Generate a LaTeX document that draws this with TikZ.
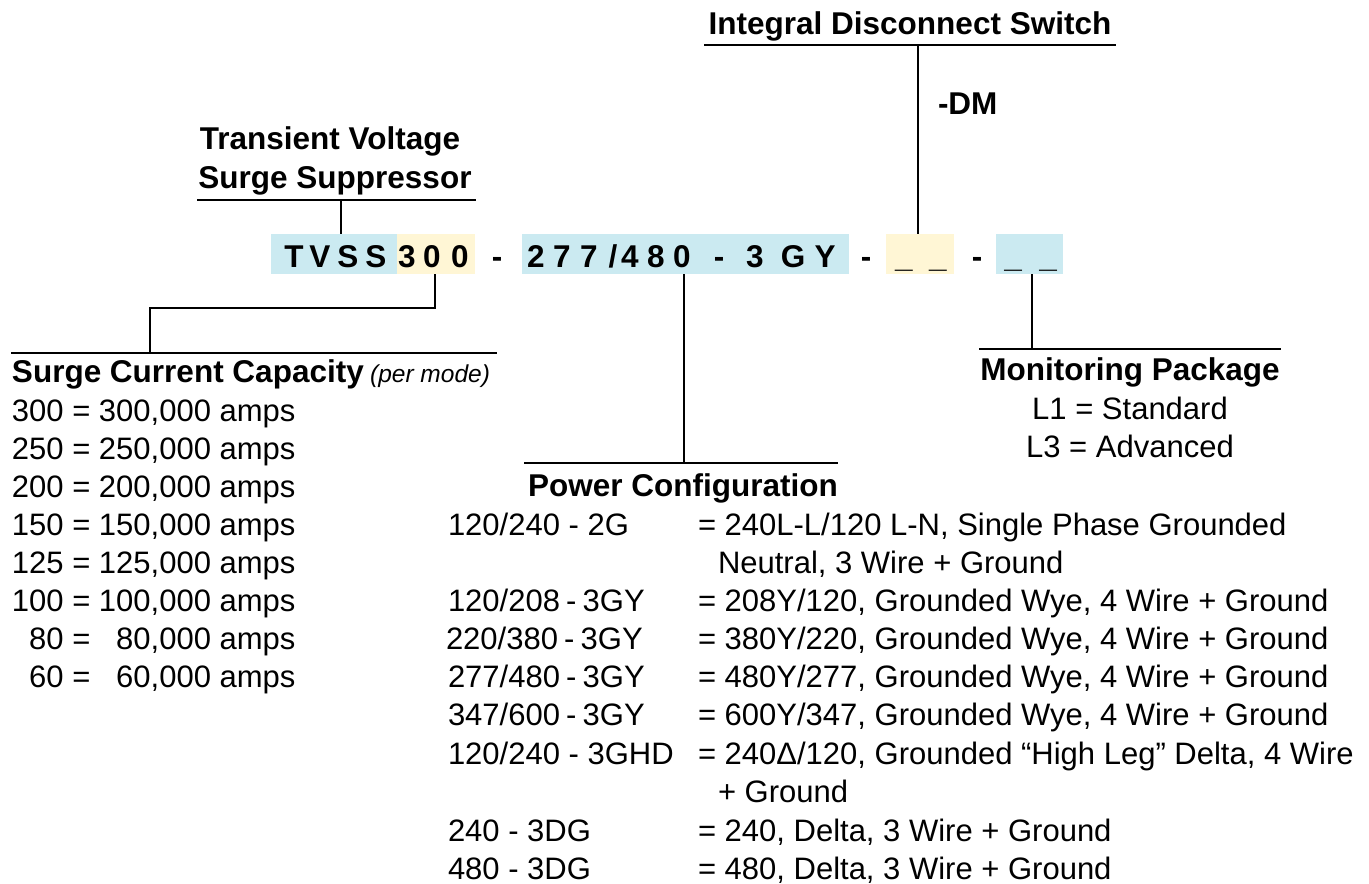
\documentclass[tikz,border=0pt]{standalone}
\usepackage{fontspec}
\setmainfont{Liberation Sans}
\definecolor{cblue}{RGB}{203,234,241}
\definecolor{cyel}{RGB}{255,246,213}
\newcommand{\nsp}{\hspace{0.2em}}
\tikzset{
  every node/.style={inner sep=0pt, outer sep=0pt},
  txt/.style={anchor=base west, font=\fontsize{31}{38}\selectfont},
  ctxt/.style={anchor=base, font=\fontsize{31}{38}\selectfont},
  hdr/.style={anchor=base, font=\fontsize{31.5}{38}\selectfont\bfseries},
  codech/.style={anchor=base, font=\fontsize{31.5}{38}\selectfont\bfseries},
  ln/.style={line width=2.2pt},
  bbox/.style={fill=cblue, draw=none, minimum height=40pt},
  ybox/.style={fill=cyel, draw=none, minimum height=40pt}
}
\begin{document}
\begin{tikzpicture}[x=1pt,y=-1pt]
\useasboundingbox (0,0) rectangle (1369,884);

% code boxes
\node[bbox, minimum width=126pt] (b1) at (334,254) {};
\node[ybox, minimum width=78pt] (y1) at (436,254) {};
\node[bbox, minimum width=327pt] (b2) at (685.5,254) {};
\node[ybox, minimum width=68pt] (y3) at (920,254) {};
\node[bbox, minimum width=67pt] (b4) at (1029.5,254) {};

% code characters
\foreach \x/\c [count=\i] in {294/T,320/V,348/S,376/S,407/3,432/0,460/0,497/-,
  536/2,562/7,589/7,613/{/},630/4,656/8,682/0,719/-,755/3,793/G,825/Y,866/-,
  904/\textunderscore,938/\textunderscore,977/-,1013/\textunderscore,1048/\textunderscore}
  \node[codech] (c\i) at (\x,267) {\c};

% Transient Voltage Surge Suppressor
\node[hdr] (tv1) at (330,149) {Transient Voltage};
\node[hdr] (tv2) at (335,188) {Surge Suppressor};
\coordinate (tvL) at (197,200);
\coordinate (tvR) at (476,200);
\coordinate (tvJ) at (341,200);
\draw[ln] (tvL) -- (tvR);
\draw[ln] (tvJ) -- (tvJ |- b1.north);

% Integral Disconnect Switch
\node[hdr] (ids) at (910,34) {Integral Disconnect Switch};
\coordinate (idL) at (704,45);
\coordinate (idR) at (1116,45);
\coordinate (idJ) at (918,45);
\draw[ln] (idL) -- (idR);
\draw[ln] (idJ) -- (idJ |- y3.north);
\node[hdr, anchor=base west] (dm) at (938,114) {-DM};

% Surge Current Capacity
\coordinate (scX) at (435,308);
\coordinate (scJ) at (150,353);
\coordinate (scL) at (11,353);
\coordinate (scR) at (497,353);
\draw[ln] (scX |- y1.south) -- (scX) -| (scJ);
\draw[ln] (scL) -- (scR);
\node[txt] (sch) at (12,382) {\bfseries\fontsize{31.5}{38}\selectfont Surge Current Capacity\hspace{0.2em}{\mdseries\itshape\fontsize{24.5}{28}\selectfont (per mode)}};
\node[txt] (s1) at (12,421) {\makebox[1.668em][r]{300} = \makebox[3.614em][r]{300,000} amps};
\node[txt] (s2) at (12,459) {\makebox[1.668em][r]{250} = \makebox[3.614em][r]{250,000} amps};
\node[txt] (s3) at (12,497) {\makebox[1.668em][r]{200} = \makebox[3.614em][r]{200,000} amps};
\node[txt] (s4) at (12,535) {\makebox[1.668em][r]{150} = \makebox[3.614em][r]{150,000} amps};
\node[txt] (s5) at (12,573) {\makebox[1.668em][r]{125} = \makebox[3.614em][r]{125,000} amps};
\node[txt] (s6) at (12,611) {\makebox[1.668em][r]{100} = \makebox[3.614em][r]{100,000} amps};
\node[txt] (s7) at (12,649) {\makebox[1.668em][r]{80} = \makebox[3.614em][r]{80,000} amps};
\node[txt] (s8) at (12,687) {\makebox[1.668em][r]{60} = \makebox[3.614em][r]{60,000} amps};

% Power Configuration
\coordinate (pcJ) at (684,463);
\coordinate (pcL) at (524,463);
\coordinate (pcR) at (838,463);
\draw[ln] (pcJ |- b2.south) -- (pcJ);
\draw[ln] (pcL) -- (pcR);
\node[hdr] (pch) at (683,496) {Power Configuration};
\node[txt] (p1a) at (448,535) {120/240 - 2G};
\node[txt] (p1b) at (698,535) {= 240L-L/120 L-N, Single Phase Grounded};
\node[txt] (p1c) at (718,573) {Neutral, 3 Wire + Ground};
\node[txt] (p2a) at (448,611) {120/208\nsp-\nsp3GY};
\node[txt] (p2b) at (698,611) {= 208Y/120, Grounded Wye, 4 Wire + Ground};
\node[txt] (p3a) at (446,649) {220/380\nsp-\nsp3GY};
\node[txt] (p3b) at (698,649) {= 380Y/220, Grounded Wye, 4 Wire + Ground};
\node[txt] (p4a) at (448,687) {277/480\nsp-\nsp3GY};
\node[txt] (p4b) at (698,687) {= 480Y/277, Grounded Wye, 4 Wire + Ground};
\node[txt] (p5a) at (448,725) {347/600\nsp-\nsp3GY};
\node[txt] (p5b) at (698,725) {= 600Y/347, Grounded Wye, 4 Wire + Ground};
\node[txt] (p6a) at (448,764) {120/240 - 3GHD};
\node[txt] (p6b) at (698,764) {= 240Δ/120, Grounded “High Leg” Delta, 4 Wire};
\node[txt] (p6c) at (718,802) {+ Ground};
\node[txt] (p7a) at (448,841) {240 - 3DG};
\node[txt] (p7b) at (698,841) {= 240, Delta, 3 Wire + Ground};
\node[txt] (p8a) at (448,879) {480 - 3DG};
\node[txt] (p8b) at (698,879) {= 480, Delta, 3 Wire + Ground};

% Monitoring Package
\coordinate (mpJ) at (1032,349);
\coordinate (mpL) at (979,349);
\coordinate (mpR) at (1281,349);
\draw[ln] (mpJ |- b4.south) -- (mpJ);
\draw[ln] (mpL) -- (mpR);
\node[hdr] (mph) at (1130,380) {Monitoring Package};
\node[ctxt] (m1) at (1130,419) {L1 = Standard};
\node[ctxt] (m2) at (1130,457) {L3 = Advanced};
\end{tikzpicture}
\end{document}
